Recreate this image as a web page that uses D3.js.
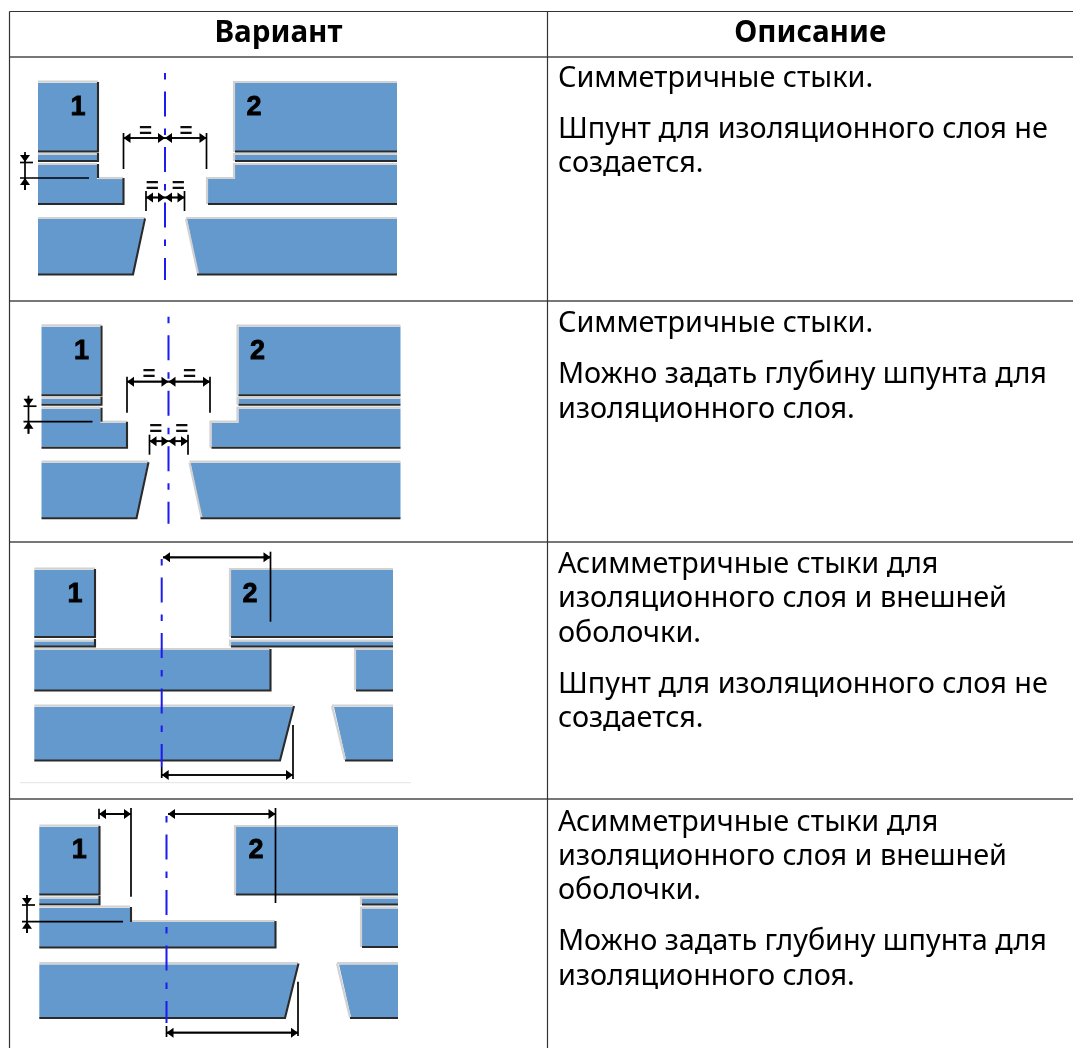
<!DOCTYPE html>
<html>
<head>
<meta charset="utf-8">
<script src="https://cdn.jsdelivr.net/npm/d3@7"></script>
<style>
  html, body { margin: 0; padding: 0; background: #fff; overflow: hidden; }
</style>
</head>
<body>
<script>
// table content
const headers = ["Вариант", "Описание"];
const rowLines = [
  ["Симметричные стыки.", null, "Шпунт для изоляционного слоя не", "создается."],
  ["Симметричные стыки.", null, "Можно задать глубину шпунта для", "изоляционного слоя."],
  ["Асимметричные стыки для", "изоляционного слоя и внешней", "оболочки.", null, "Шпунт для изоляционного слоя не", "создается."],
  ["Асимметричные стыки для", "изоляционного слоя и внешней", "оболочки.", null, "Можно задать глубину шпунта для", "изоляционного слоя."]
];
const rowBaselines = [87, 332.3, 572.7, 830.5];

// table rules
const colEdges = [9.5, 547.5, 1073];
const rowEdges = [11.5, 57, 301, 542, 799, 1048];

// blocks of the symmetric joint, [fill, light edges, dark edges]
const blocksSym = [
  [[[38,83],[97,83],[97,151],[38,151]], [[[38,81.7],[98,81.7]]], [[[98,82],[98,151.5],[38,151.5]]]],
  [[[38,155],[97,155],[97,160],[38,160]], [[[38,154],[97,154]]], [[[98,153],[98,161],[38,161]]]],
  [[[38,165],[97,165],[97,179],[123,179],[123,203],[38,203]], [[[38,164],[97,164]], [[98,178],[123,178]]], [[[98,164],[98,178]], [[123.5,178],[123.5,204],[38,204]]]],
  [[[38,219],[144,219],[133,274],[38,274]], [[[38,218],[145,218]]], [[[145,218.5],[133,274.5],[38,274.5]]]],
  [[[235,83],[397,83],[397,151],[235,151]], [[[234,152],[234,82],[397,82]]], [[[235,151.5],[397,151.5]]]],
  [[[235,155],[397,155],[397,160],[235,160]], [[[234,161],[234,154],[397,154]]], [[[235,161],[397,161]]]],
  [[[235,165],[397,165],[397,203],[208,203],[208,179],[235,179]], [[[207,204],[207,178],[234,178],[234,164],[397,164]]], [[[208,204],[397,204]]]],
  [[[187,219],[397,219],[397,274],[198,274]], [[[186,218],[397,218]], [[186,219],[198,274]]], [[[197,274.5],[397,274.5]]]]
];
const arrowsSym = [[123.5,138,165,138],[165,138,123.5,138],[206.5,138,165,138],[165,138,206.5,138],[146,197.5,165,197.5],[165,197.5,146,197.5],[184.5,197.5,165,197.5],[165,197.5,184.5,197.5],[25,162,25,152],[25,178,25,190]];
const linesSym = [[123.5,133,123.5,169],[206.5,133,206.5,169],[146,191,146,211],[184.5,191,184.5,211],[20,162.5,33,162.5],[20,178,89,178],[25,154,25,190]];
const equalsSym = [[145.5,129],[186,129],[152.3,184],[178.3,184]];
const numbersSym = [[78,115,"1"],[254,115,"2"]];
const axisSym = [165,73,280];

// asymmetric joint without the insulation groove
const blocksAsymA = [
  [[[34.3,570],[94,570],[94,637],[34.3,637]], [[[34.3,568.7],[95,568.7]]], [[[95,569],[95,637],[34.3,637]]]],
  [[[34.3,641.5],[94,641.5],[94,646],[34.3,646]], [[[34.3,640.5],[94,640.5]]], [[[95,639],[95,646.5],[34.3,646.5]]]],
  [[[231,570],[393,570],[393,637],[231,637]], [[[230,637],[230,569],[393,569]]], [[[231,637],[393,637]]]],
  [[[231,641.5],[393,641.5],[393,646],[231,646]], [[[230,646.5],[230,640.5],[393,640.5]]], [[[231,646.5],[393,646.5]]]],
  [[[34.3,650],[270,650],[270,690],[34.3,690]], [[[34.3,649],[270,649]]], [[[270.5,649],[270.5,690.5],[34.3,690.5]]]],
  [[[356,650],[393,650],[393,690],[356,690]], [[[355,690],[355,649],[393,649]]], [[[356,690.5],[393,690.5]]]],
  [[[34.3,707],[293,707],[280,760],[34.3,760]], [[[34.3,705.7],[293,705.7]]], [[[294,706],[280,760.5],[34.3,760.5]]]],
  [[[334,707],[393,707],[393,760],[346,760]], [[[332,705.7],[393,705.7]], [[332,706],[345,760]]], [[[345,760.5],[393,760.5]]]]
];
const arrowsAsymA = [[163,557.3,270.5,557.3],[270.5,557.3,163,557.3],[161.7,775,293,775],[293,775,161.7,775]];
const linesAsymA = [[270.5,551.7,270.5,621.7],[293,725,293,779],[161.7,767,161.7,778]];
const numbersAsymA = [[75,602,"1"],[250,602,"2"]];
const axisAsymA = [161.7,559,767];

// asymmetric joint with the insulation groove
const blocksAsymB = [
  [[[39.3,827],[99,827],[99,894],[39.3,894]], [[[39.3,825.7],[100,825.7]]], [[[99.5,826],[99.5,894.5],[39.3,894.5]]]],
  [[[39.3,898.5],[99,898.5],[99,904],[39.3,904]], [[[39.3,897.5],[99,897.5]]], [[[99.5,896],[99.5,904.5],[39.3,904.5]]]],
  [[[236,827],[398,827],[398,894],[236,894]], [[[235,895],[235,826],[398,826]]], [[[236,894.5],[398,894.5]]]],
  [[[362,898.5],[398,898.5],[398,904],[362,904]], [[[361,905],[361,897.5],[398,897.5]]], [[[362,904.5],[398,904.5]]]],
  [[[362,908.5],[398,908.5],[398,946.5],[362,946.5]], [[[361,947],[361,907.5],[398,907.5]]], [[[362,947],[398,947]]]],
  [[[39.3,908],[131,908],[131,922],[275,922],[275,947],[39.3,947]], [[[39.3,906.7],[130,906.7]], [[132,921],[275,921]]], [[[131,907],[131,922]], [[275.5,921],[275.5,947.5],[39.3,947.5]]]],
  [[[39.3,964.5],[298,964.5],[285,1017.5],[39.3,1017.5]], [[[39.3,963.2],[298,963.2]]], [[[298.5,963.5],[285,1018],[39.3,1018]]]],
  [[[339,964.5],[398,964.5],[398,1017.5],[351,1017.5]], [[[337,963.2],[398,963.2]], [[337,963.5],[350,1017.5]]], [[[350,1018],[398,1018]]]]
];
const arrowsAsymB = [[99,814,131,814],[131,814,99,814],[168,814,275.5,814],[275.5,814,168,814],[166.5,1032.7,298,1032.7],[298,1032.7,166.5,1032.7],[27,905,27,895],[27,921.7,27,933]];
const linesAsymB = [[99,808.7,99,819],[131,808,131,896.7],[275.5,808,275.5,903],[298,981.7,298,1036],[166.5,1026,166.5,1037],[22,905,35,905],[22,921.7,123,921.7],[27,897,27,933]];
const numbersAsymB = [[79.3,858,"1"],[256,858,"2"]];
const axisAsymB = [166.5,816,1023];

const panelShift = [[0,0],[3.5,243.7],[0,0],[0,0]];
const panelBlocks = [blocksSym, blocksSym, blocksAsymA, blocksAsymB];
const panelArrows = [arrowsSym, arrowsSym, arrowsAsymA, arrowsAsymB];
const panelLines = [linesSym, linesSym, linesAsymA, linesAsymB];
const panelEquals = [equalsSym, equalsSym, [], []];
const panelNumbers = [numbersSym, numbersSym, numbersAsymA, numbersAsymB];
const panelAxis = [axisSym, axisSym, axisAsymA, axisAsymB];

const canvWidth = 1073, canvHeight = 1048;
const svg = d3.select("body").append("svg")
    .attr("width", canvWidth)
    .attr("height", canvHeight)
    .style("display", "block");

// slight softening, the diagrams are low res pictures in the original
const defs = svg.append("defs");
defs.append("filter").attr("id", "soft")
    .append("feGaussianBlur").attr("stdDeviation", 0.5);
defs.append("filter").attr("id", "softText")
    .attr("x", "-2%").attr("y", "-20%").attr("width", "104%").attr("height", "140%")
    .append("feGaussianBlur").attr("stdDeviation", 0.3);

const textFont = "'Noto Sans', sans-serif";
const blue = "#6499cd", lightEdge = "#d2d2d2", darkEdge = "#2a2a2a", axisBlue = "#1a1aee";

// diagrams
panelShift.forEach((shift, i) => {
    const x = d3.scaleLinear().domain([0, canvWidth]).range([shift[0], canvWidth + shift[0]]);
    const y = d3.scaleLinear().domain([0, canvHeight]).range([shift[1], canvHeight + shift[1]]);
    const line = d3.line().x(d => x(d[0])).y(d => y(d[1]));
    const g = svg.append("g").attr("class", "panel").attr("filter", "url(#soft)");

    panelBlocks[i].forEach(b => {
        g.append("path").attr("d", line(b[0]) + "Z").attr("fill", blue);
        b[1].forEach(p => g.append("path").attr("d", line(p)).attr("fill", "none")
            .attr("stroke", lightEdge).attr("stroke-width", 2.2));
        b[2].forEach(p => g.append("path").attr("d", line(p)).attr("fill", "none")
            .attr("stroke", darkEdge).attr("stroke-width", 2.1));
    });

    // centre line
    const ax = panelAxis[i];
    g.append("line")
        .attr("x1", x(ax[0])).attr("x2", x(ax[0]))
        .attr("y1", y(ax[1])).attr("y2", y(ax[2]))
        .attr("stroke", axisBlue).attr("stroke-width", 2)
        .attr("stroke-dasharray", "6.5 12 25 12");

    panelLines[i].forEach(l => g.append("line")
        .attr("x1", x(l[0])).attr("y1", y(l[1]))
        .attr("x2", x(l[2])).attr("y2", y(l[3]))
        .attr("stroke", "#000").attr("stroke-width", 1.7));

    // dimension arrows, head sits at the first point
    panelArrows[i].forEach(a => {
        const x1 = x(a[0]), y1 = y(a[1]), x2 = x(a[2]), y2 = y(a[3]);
        g.append("line").attr("x1", x1).attr("y1", y1).attr("x2", x2).attr("y2", y2)
            .attr("stroke", "#000").attr("stroke-width", 1.7);
        const ang = Math.atan2(y2 - y1, x2 - x1) * 180 / Math.PI;
        g.append("path").attr("d", "M0,0L7,-5L7,5Z").attr("fill", "#000")
            .attr("transform", `translate(${x1},${y1}) rotate(${ang})`);
    });

    // equal signs are stretched a bit, the bars sit far apart in the original
    g.selectAll("text.eq").data(panelEquals[i]).enter().append("text")
        .attr("class", "eq")
        .attr("transform", d => `translate(${x(d[0])},${y(d[1])}) scale(1,1.6)`)
        .attr("text-anchor", "middle").attr("dominant-baseline", "central")
        .attr("font-family", "'DejaVu Sans'").attr("font-size", 18).attr("fill", "#111")
        .text("=");

    g.selectAll("text.num").data(panelNumbers[i]).enter().append("text")
        .attr("class", "num")
        .attr("x", d => x(d[0])).attr("y", d => y(d[1]))
        .attr("text-anchor", "middle")
        .attr("font-family", "'Liberation Sans'").attr("font-weight", "bold")
        .attr("font-size", 27).attr("fill", "#000")
        .attr("stroke", "#000").attr("stroke-width", 0.8)
        .text(d => d[2]);
});

// faint rule under the third picture
svg.append("line").attr("x1", 20).attr("x2", 411).attr("y1", 782.7).attr("y2", 782.7)
    .attr("stroke", "#e6eaed").attr("stroke-width", 1.3);

// table rules
svg.append("line").attr("x1", colEdges[0]).attr("x2", colEdges[2])
    .attr("y1", rowEdges[0]).attr("y2", rowEdges[0]).attr("stroke", "#333").attr("stroke-width", 1.2);
svg.selectAll("line.row").data(rowEdges.slice(1, 5)).enter().append("line")
    .attr("class", "row")
    .attr("x1", colEdges[0]).attr("x2", colEdges[2])
    .attr("y1", d => d).attr("y2", d => d)
    .attr("stroke", "#777").attr("stroke-width", 2);
svg.selectAll("line.col").data(colEdges.slice(0, 2)).enter().append("line")
    .attr("class", "col")
    .attr("x1", d => d).attr("x2", d => d)
    .attr("y1", rowEdges[0]).attr("y2", rowEdges[5])
    .attr("stroke", "#333").attr("stroke-width", 1.2);

// header text
svg.selectAll("text.head").data(headers).enter().append("text")
    .attr("class", "head")
    .attr("x", (d, i) => (colEdges[i] + colEdges[i + 1]) / 2)
    .attr("y", 42)
    .attr("text-anchor", "middle")
    .attr("font-family", textFont).attr("font-weight", "bold")
    .attr("font-size", 29.6).attr("fill", "#000")
    .attr("filter", "url(#softText)")
    .text(d => d);

// description text, paragraphs sit 51 apart, lines about 34.4
rowLines.forEach((lines, r) => {
    let baseline = rowBaselines[r];
    lines.forEach(t => {
        if (t === null) { baseline += 16.6; return; }
        svg.append("text")
            .attr("x", 558).attr("y", baseline)
            .attr("font-family", textFont).attr("font-size", 28.8).attr("fill", "#000")
            .attr("filter", "url(#softText)")
            .text(t);
        baseline += 34.4;
    });
});
</script>
</body>
</html>
